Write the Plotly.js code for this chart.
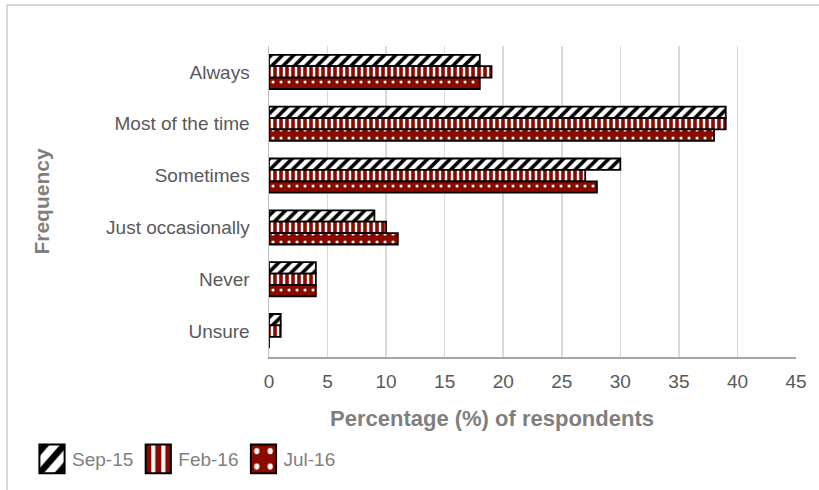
<!DOCTYPE html>
<html>
<head>
<meta charset="utf-8">
<script src="https://cdn.plot.ly/plotly-3.0.1.min.js"></script>
<style>
html,body{margin:0;padding:0;background:#fff;}
#wrap{position:relative;width:819px;height:490px;}
#chart{position:absolute;left:0;top:0;width:819px;height:490px;}
#frame{position:absolute;left:6px;top:4px;width:813px;height:486px;border-left:2px solid #d9d9d9;border-top:2px solid #d9d9d9;pointer-events:none;}
</style>
</head>
<body>
<div id="wrap"><div id="chart"></div><div id="frame"></div></div>
<script>
const categories = ["Always", "Most of the time", "Sometimes", "Just occasionally", "Never", "Unsure"];
const seriesNames = ["Sep-15", "Feb-16", "Jul-16"];
const sep15 = [18, 39, 30, 9, 4, 1];
const feb16 = [19, 39, 27, 10, 4, 1];
const jul16 = [18, 38, 28, 11, 4, 0];
const xTicks = [0, 5, 10, 15, 20, 25, 30, 35, 40, 45];
const xTitle = "Percentage (%) of respondents";
const yTitle = "Frequency";

const red = "#8B0A00";
const line = {color: "#000", width: 1.8};
const traces = [
  {name: seriesNames[0], x: sep15, y: categories, type: "bar", orientation: "h",
   marker: {color: "#fff", line: line, pattern: {shape: "/", bgcolor: "#fff", fgcolor: "#000", size: 8, solidity: 0.45}}},
  {name: seriesNames[1], x: feb16, y: categories, type: "bar", orientation: "h",
   marker: {color: red, line: line, pattern: {shape: "|", bgcolor: red, fgcolor: "#fff", size: 6, solidity: 0.4}}},
  {name: seriesNames[2], x: jul16, y: categories, type: "bar", orientation: "h",
   marker: {color: red, line: line, pattern: {shape: ".", bgcolor: red, fgcolor: "#fff", size: 8, solidity: 0.12}}}
];

const L = 269, R = 23, T = 46, B = 130, W = 819, H = 490;
const pw = W - L - R, ph = H - T - B;
const fam = "Liberation Sans, Arial, sans-serif";

const layout = {
  width: W, height: H,
  margin: {l: L, r: R, t: T, b: B},
  paper_bgcolor: "#fff", plot_bgcolor: "#fff",
  font: {family: fam, color: "#595959", size: 19},
  barmode: "group", bargap: 0.34, bargroupgap: 0,
  showlegend: true,
  legend: {orientation: "h", traceorder: "normal", x: (32 - L) / pw, xanchor: "left",
           y: (H - B - 463) / ph, yanchor: "middle", itemgap: 2,
           font: {size: 19, color: "#7f7f7f"}, itemwidth: 30, bgcolor: "rgba(0,0,0,0)"},
  xaxis: {range: [0, 45], tickvals: xTicks, ticktext: xTicks.map(String),
          showgrid: true, gridcolor: "#d9d9d9", gridwidth: 1.5,
          showline: true, linecolor: "#a6a6a6", linewidth: 2, zeroline: false,
          ticks: "", ticklabelstandoff: 6, tickfont: {size: 19, color: "#595959"}},
  yaxis: {autorange: "reversed", type: "category",
          showgrid: false, showline: true, linecolor: "#bfbfbf", linewidth: 1.5, zeroline: false,
          ticks: "", ticklabelstandoff: 14, tickfont: {size: 19, color: "#595959"},
          title: {text: yTitle, standoff: 50,
                  font: {size: 21, color: "#7f7f7f", family: fam, weight: "bold"}}},
  annotations: [
    {text: "<b>" + xTitle + "</b>", xref: "paper", yref: "paper",
     x: (492 - L) / pw, y: (H - B - 422) / ph, xanchor: "center", yanchor: "middle",
     showarrow: false, font: {size: 22, color: "#7f7f7f", family: fam}}
  ]
};

Plotly.newPlot("chart", traces, layout, {displayModeBar: false, staticPlot: true}).then(function (gd) {
  gd.querySelectorAll(".legend .legendpoints path").forEach(function (p) {
    const t = p.getAttribute("transform") || "";
    p.setAttribute("transform", t + " scale(2.1,2.4)");
    p.setAttribute("vector-effect", "non-scaling-stroke");
    p.style.strokeWidth = "2px";
  });
});
</script>
</body>
</html>
